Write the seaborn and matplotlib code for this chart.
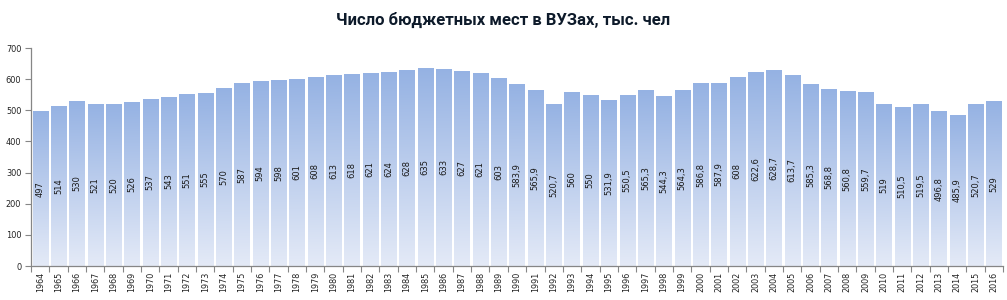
import numpy as np
import pandas as pd
import seaborn as sns
import matplotlib.pyplot as plt
from matplotlib.colors import LinearSegmentedColormap

years = [str(y) for y in range(1964, 2017)]
values = [497, 514, 530, 521, 520, 526, 537, 543, 551, 555, 570, 587, 594, 598,
          601, 608, 613, 618, 621, 624, 628, 635, 633, 627, 621, 603, 583.9,
          565.9, 520.7, 560, 550, 531.9, 550.5, 565.3, 544.3, 564.3, 586.8,
          587.9, 608, 622.6, 628.7, 613.7, 585.3, 568.8, 560.8, 559.7, 519,
          510.5, 519.5, 496.8, 485.9, 520.7, 529]
y_ticks = [0, 100, 200, 300, 400, 500, 600, 700]
title = "Число бюджетных мест в ВУЗах, тыс. чел"

df = pd.DataFrame({"year": years, "value": values})

sns.set_theme(style="white")
plt.rcParams['font.family'] = ['DejaVu Sans']

fig = plt.figure(figsize=(10.07, 3.0), dpi=100)
ax = fig.add_axes([31 / 1007, 34 / 300, 972 / 1007, 218 / 300])

sns.barplot(data=df, x="year", y="value", ax=ax, width=0.82,
            color="#9bb6e5", saturation=1, edgecolor="none")

cmap = LinearSegmentedColormap.from_list("g", ["#e4eaf7", "#95b2e3"])
grad = np.linspace(0, 1, 256).reshape(-1, 1)
for p in list(ax.patches):
    x0, y0, w, h = p.get_x(), p.get_y(), p.get_width(), p.get_height()
    im = ax.imshow(grad, extent=[x0, x0 + w, y0, y0 + h], aspect="auto",
                   cmap=cmap, origin="lower", zorder=p.get_zorder(),
                   interpolation="bilinear")
    im.set_clip_path(p)
    p.set_facecolor("none")

for i, v in enumerate(values):
    lab = f"{v:g}".replace(".", ",")
    ax.text(i, v / 2, lab, rotation=90, ha="center", va="center",
            fontsize=6, color="#1a1a1a")

ax.set_xlim(-0.5, len(years) - 0.5)
ax.set_ylim(0, 700)
ax.set_yticks(y_ticks)
ax.set_yticklabels([str(t) for t in y_ticks], fontsize=5.9, color="#222222")
ax.set_xticks(range(len(years)))
ax.set_xticklabels(years, rotation=90, fontsize=5.8, color="#222222")
ax.set_xticks(np.arange(-0.5, len(years), 1.0), minor=True)
ax.tick_params(axis="x", which="major", length=0, pad=4)
ax.tick_params(axis="x", which="minor", length=4, width=0.8, color="#868686",
               direction="out", bottom=True)
ax.tick_params(axis="y", which="major", length=4, width=0.8, color="#868686",
               direction="out", left=True, pad=3)
ax.set_xlabel("")
ax.set_ylabel("")
for s in ["top", "right"]:
    ax.spines[s].set_visible(False)
for s in ["left", "bottom"]:
    ax.spines[s].set_color("#868686")
    ax.spines[s].set_linewidth(0.9)

fig.text(0.5, 0.933, title, ha="center", va="center", fontsize=12,
         fontweight="bold", family=["Roboto", "DejaVu Sans"],
         color="#0d1a2a")

fig.savefig("out.png", dpi=100)
